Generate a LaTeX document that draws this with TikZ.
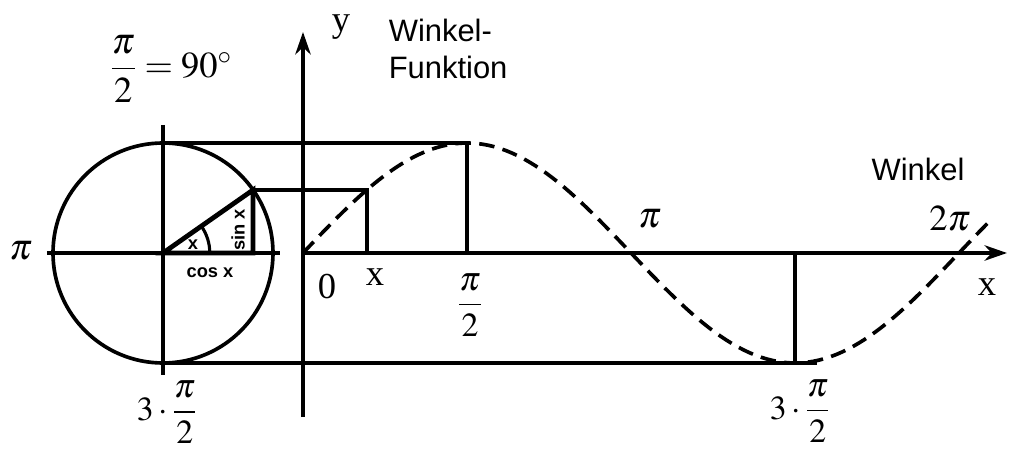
\documentclass[tikz,border=0pt]{standalone}
\usepackage{amsmath}
\usepackage{mathptmx}
\usepackage{fontspec}
\setmainfont{Liberation Serif}
\setsansfont{Liberation Sans}
\usetikzlibrary{arrows.meta}

\begin{document}
\begin{tikzpicture}[
  >={Stealth[length=16pt,width=11pt]}, line width=2.6pt,
  guide/.style={line width=2.2pt},
  curve/.style={dash pattern=on 11pt off 6pt, line width=2.6pt},
  leg/.style={line width=3.4pt},
  lbl/.style={font=\fontsize{26}{30}\selectfont, inner sep=1pt},
  frac/.style={font=\fontsize{24}{28}\selectfont, inner sep=0pt},
  word/.style={font=\sffamily\fontsize{22}{26}\selectfont, align=left, inner sep=0pt},
  small/.style={font=\sffamily\bfseries\fontsize{13}{14}\selectfont, inner sep=0pt}
]
\useasboundingbox (-7.575,-5.05) rectangle (17.65,6.325);

% unit circle on the left
\coordinate (C) at (-3.5,0);
\coordinate (P) at ([shift={(35:2.75)}]C);
\coordinate (Pf) at (P |- C);
\coordinate (cl) at (-6.4,0);
\coordinate (cr) at (-0.575,0);
\coordinate (cu) at (-3.5,3.2);
\coordinate (cd) at (-3.5,-3.05);
\coordinate (ctop) at (-3.5,2.75);
\coordinate (cbot) at (-3.5,-2.75);
\draw (C) circle (2.75);
\draw (cl) -- (cr);
\draw (cu) -- (cd);
\draw[leg] (C) -- (P) -- (Pf) -- cycle;
\draw[guide] ([shift={(0:1.17)}]C) arc (0:35:1.17);

% axes
\coordinate (O) at (0,0);
\coordinate (ybot) at (0,-4.1);
\coordinate (ytop) at (0,5.525);
\coordinate (xend) at (17.6,0);
\draw[->] (ybot) -- (ytop);
\draw[->] (O) -- (xend);

% projections onto the sine curve
\coordinate (xs) at (1.594,0);
\coordinate (xsp) at (xs |- P);
\coordinate (pk) at (4.1,2.75);
\coordinate (pk0) at (4.1,0);
\coordinate (tend) at (4.175,2.75);
\coordinate (tr) at (12.3,-2.75);
\coordinate (tr0) at (12.3,0);
\coordinate (bend) at (12.85,-2.75);
\draw (P) -- (xsp) -- (xs);
\draw (ctop) -- (tend);
\draw (pk) -- (pk0);
\draw (cbot) -- (bend);
\draw (tr0) -- (tr);

% sine curve
\draw[curve] plot[domain=0:17.25, samples=120] (\x, {2.75*sin(90*\x/4.1)});

% labels
\node[lbl] (lpi) at (-7.05,0.05) {$\pi$};
\node[lbl] (l90) at (-3.3,4.6) {$\dfrac{\pi}{2}=90^\circ$};
\node[frac] (l270) at (-3.4,-3.98) {$3\cdot\dfrac{\pi}{2}$};
\node[lbl] (ly) at (0.95,5.65) {y};
\node[word, anchor=west] (lfun) at (2.1,5.1) {Winkel-\\Funktion};
\node[lbl] (l0) at (0.6,-0.85) {0};
\node[lbl] (lx) at (1.8,-0.6) {x};
\node[frac] (lhalf) at (4.175,-1.3) {$\dfrac{\pi}{2}$};
\node[lbl] (lpi2) at (8.675,0.85) {$\pi$};
\node[word] (lwin) at (15.375,2.1) {Winkel};
\node[lbl] (l2pi) at (16.175,0.85) {$2\pi$};
\node[lbl] (lxr) at (17.1,-0.85) {x};
\node[frac] (l270r) at (12.425,-3.95) {$3\cdot\dfrac{\pi}{2}$};
\node[small] (lcos) at (-2.325,-0.5) {cos x};
\node[small, rotate=90] (lsin) at (-1.625,0.575) {sin x};
\node[small] (lang) at (-2.75,0.2) {x};
\end{tikzpicture}
\end{document}
